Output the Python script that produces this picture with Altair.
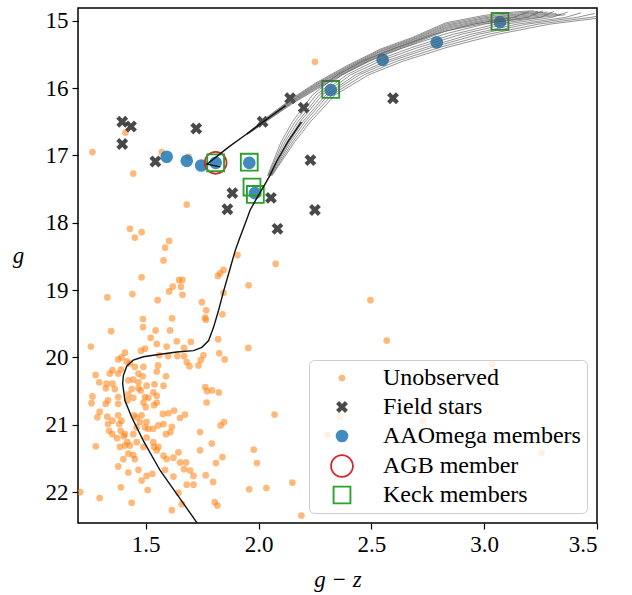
import altair as alt
import pandas as pd

# ---------------- data ----------------
unobs_x = [2.25, 1.264, 1.41, 1.571, 1.445, 1.69, 1.682, 1.43, 1.482, 1.452, 1.604, 1.586, 1.579, 1.907,
           1.482, 1.648, 1.663, 1.62, 1.656, 1.604, 1.663, 1.441, 1.33, 1.553,
           2.076, 1.845, 1.83, 1.82, 1.956, 1.845, 1.749, 1.768, 1.84,
           1.763, 1.767, 1.488, 1.488, 1.617, 1.347, 1.544, 1.608, 1.522, 1.821, 1.955, 1.257,
           1.549, 1.593, 1.638, 1.67, 1.70, 1.497,
           1.56, 1.60, 1.64, 1.67, 1.826, 1.85,
           1.756, 1.744, 1.734, 1.682, 1.694, 1.479,
           1.408, 1.393, 1.378, 1.416, 1.43,
           1.353, 1.341, 1.378, 1.39,
           1.452, 1.49, 1.468, 1.487, 1.278,
           1.555, 1.549, 1.59,
           1.294, 1.327, 1.353, 1.363, 1.323,
           1.423, 1.445, 1.468, 1.468, 1.438, 1.478, 1.504,
           1.539, 1.579, 1.534,
           1.264, 1.26, 1.323, 1.333,
           1.378, 1.378, 1.423, 1.445, 1.42,
           1.497, 1.49, 1.50, 1.512, 1.549, 1.549, 1.537,
           1.764, 1.772, 1.794, 1.824, 1.77,
           1.296, 1.33, 1.286, 1.353, 1.333, 1.338, 1.352, 1.279,
           1.378, 1.393, 1.383, 1.389, 1.408,
           1.448, 1.46, 1.482, 1.475, 1.46, 1.497, 1.504, 1.512, 1.534, 1.556, 1.579, 1.445,
           1.576, 1.601, 1.626, 1.652, 1.674,
           1.616, 1.61, 1.59,
           1.832, 1.847, 1.741, 1.793, 1.741, 2.071,
           1.373, 1.403, 1.418, 1.408, 1.43, 1.386,
           1.504, 1.534, 1.46, 1.49, 1.537, 1.556,
           1.549, 1.579, 1.593, 1.623, 1.645,
           1.423, 1.445, 1.452, 1.401, 1.378,
           1.468, 1.423, 1.482, 1.504, 1.53,
           1.586, 1.623, 1.652, 1.679, 1.67, 1.697, 1.712, 1.682, 1.712,
           1.645, 1.66, 1.616,
           1.766, 1.799, 1.811, 1.84,
           1.979, 1.993,
           1.39, 1.509, 1.296, 1.21, 1.438,
           1.806, 1.818,
           1.959, 2.035, 2.15, 2.19,
           2.496, 2.568, 3.036, 3.254, 2.728, 2.362, 2.305, 2.716, 2.657, 2.87]
unobs_g = [15.61, 16.95, 16.66, 16.95, 17.27, 17.02, 17.73, 18.09, 18.14, 18.22, 18.27, 18.37, 18.56, 18.48,
           18.81, 18.85, 18.85, 18.95, 18.95, 19.02, 19.07, 19.06, 19.11, 19.15,
           18.61, 18.70, 18.75, 18.79, 18.93, 19.04, 19.18, 19.30, 19.36,
           19.41, 19.44, 19.43, 19.55, 19.42, 19.61, 19.60, 19.60, 19.71, 19.73, 19.86, 19.84,
           19.80, 19.84, 19.76, 19.86, 19.77, 19.87,
           19.97, 19.98, 19.98, 19.98, 19.94, 20.03,
           19.97, 20.04, 20.12, 20.07, 20.13, 19.90,
           19.93, 20.00, 20.03, 20.06, 20.09,
           20.19, 20.24, 20.24, 20.18,
           20.14, 20.14, 20.24, 20.28, 20.26,
           20.12, 20.21, 20.28,
           20.37, 20.39, 20.39, 20.47, 20.46,
           20.34, 20.33, 20.37, 20.46, 20.47, 20.49, 20.42,
           20.40, 20.42, 20.52,
           20.58, 20.68, 20.69, 20.64,
           20.59, 20.69, 20.55, 20.60, 20.64,
           20.59, 20.67, 20.74, 20.60, 20.57, 20.67, 20.71,
           20.44, 20.50, 20.49, 20.52, 20.67,
           20.81, 20.88, 20.89, 20.94, 20.99, 21.09, 21.14, 21.32,
           20.86, 20.94, 20.99, 21.09, 21.14,
           20.86, 20.89, 20.86, 20.96, 21.04, 21.04, 20.96, 21.06, 21.06, 21.01, 20.99, 21.14,
           20.84, 20.83, 20.79, 20.90, 20.85,
           21.03, 21.11, 21.14,
           21.01, 20.96, 21.11, 21.28, 21.38, 20.85,
           21.20, 21.17, 21.26, 21.31, 21.31, 21.33,
           21.19, 21.26, 21.26, 21.33, 21.33, 21.33,
           21.38, 21.46, 21.51, 21.49, 21.41,
           21.43, 21.45, 21.51, 21.51, 21.62,
           21.67, 21.71, 21.83, 21.76, 21.73,
           21.67, 21.77, 21.56, 21.56, 21.66, 21.68, 21.76, 21.89, 21.89,
           22.01, 22.18, 22.27,
           21.75, 21.85, 21.57, 21.48,
           21.37, 21.57,
           21.93, 21.97, 22.09, 22.00, 22.16,
           22.15, 22.20,
           21.96, 21.94, 21.86, 22.35,
           19.15, 19.75, 20.10, 21.42, 20.94, 20.88, 21.15, 21.68, 20.75, 20.83]

field_x = [1.396, 1.435, 1.396, 1.724, 1.543, 1.884, 1.862, 2.055, 2.084, 2.018, 2.14, 2.20, 2.23, 2.25, 2.596]
field_g = [16.50, 16.57, 16.83, 16.60, 17.09, 17.56, 17.80, 17.63, 18.09, 16.50, 16.15, 16.29, 17.07, 17.81, 16.15]

aao_x = [1.593, 1.682, 1.746, 1.81, 1.959, 1.984, 2.32, 2.55, 2.79, 3.07]
aao_g = [17.02, 17.08, 17.15, 17.11, 17.11, 17.56, 16.03, 15.58, 15.32, 15.02]

agb_x = [1.81]
agb_g = [17.11]

keck_x = [1.81, 1.959, 1.971, 1.986, 2.32, 3.07]
keck_g = [17.11, 17.10, 17.47, 17.58, 16.02, 15.01]

# best-fitting (black) isochrone: main sequence -> lower RGB
iso_x = [1.745, 1.73, 1.638, 1.564, 1.49, 1.438, 1.408, 1.398, 1.401, 1.416, 1.445, 1.49, 1.549, 1.638,
         1.712, 1.749, 1.779, 1.801, 1.823, 1.845, 1.868, 1.897, 1.913, 1.941, 1.963, 1.988, 2.03,
         2.05, 2.08, 2.13, 2.19]
iso_g = [22.55, 22.47, 22.03, 21.68, 21.24, 20.89, 20.64, 20.39, 20.27, 20.13, 20.04, 19.99, 19.96, 19.92,
         19.90, 19.85, 19.75, 19.55, 19.30, 19.02, 18.75, 18.41, 18.26, 18.01, 17.81, 17.66, 17.42,
         17.30, 17.09, 16.80, 16.50]

# black isochrone: horizontal branch / lower AGB
iso_agb_x = [1.83, 1.772, 1.87, 1.94, 2.05, 2.12]
iso_agb_g = [17.17, 17.13, 16.87, 16.70, 16.43, 16.26]

# grey isochrones, RGB part: x at common g levels, plus a tip
rgb_levels = [17.30, 16.80, 16.50, 16.10, 15.80, 15.60, 15.40, 15.20, 15.05, 14.95]
rgb_lines_x = [
    [2.040, 2.100, 2.150, 2.240, 2.350, 2.460, 2.610, 2.780, 2.950, 3.130, 3.20],
    [2.043, 2.109, 2.162, 2.255, 2.371, 2.487, 2.643, 2.822, 3.001, 3.190, 3.26],
    [2.046, 2.118, 2.174, 2.270, 2.392, 2.514, 2.676, 2.864, 3.052, 3.250, 3.31],
    [2.049, 2.126, 2.184, 2.283, 2.410, 2.537, 2.704, 2.899, 3.095, 3.300, 3.37],
    [2.052, 2.135, 2.196, 2.298, 2.431, 2.564, 2.737, 2.941, 3.146, 3.360, 3.43],
    [2.054, 2.142, 2.206, 2.310, 2.448, 2.586, 2.764, 2.976, 3.188, 3.410, 3.49],
    [2.057, 2.151, 2.218, 2.325, 2.469, 2.613, 2.797, 3.018, 3.239, 3.470, 3.56],
    [2.060, 2.160, 2.230, 2.340, 2.490, 2.640, 2.830, 3.060, 3.290, 3.530, 3.62],
]
rgb_tips_g = [14.86, 14.85, 14.86, 14.87, 14.88, 14.89, 14.90, 14.91]

# grey isochrones, AGB part: g at common x levels, plus a tip
agb_levels = [1.95, 2.05, 2.15, 2.25, 2.39, 2.54, 2.68, 2.83, 3.00, 3.13]
agb_lines_g = [
    [16.670, 16.400, 16.150, 15.930, 15.670, 15.420, 15.250, 15.030, 14.920, 14.870],
    [16.673, 16.409, 16.162, 15.945, 15.685, 15.435, 15.265, 15.048, 14.938, 14.888],
    [16.676, 16.418, 16.174, 15.960, 15.700, 15.450, 15.280, 15.066, 14.956, 14.906],
    [16.678, 16.425, 16.184, 15.972, 15.712, 15.462, 15.292, 15.081, 14.971, 14.921],
    [16.682, 16.435, 16.196, 15.988, 15.728, 15.478, 15.308, 15.099, 14.989, 14.939],
    [16.684, 16.442, 16.206, 16.000, 15.740, 15.490, 15.320, 15.114, 15.004, 14.954],
    [16.687, 16.451, 16.218, 16.015, 15.755, 15.505, 15.335, 15.132, 15.022, 14.972],
    [16.690, 16.460, 16.230, 16.030, 15.770, 15.520, 15.350, 15.150, 15.040, 14.990],
]
agb_tips_x = [3.22, 3.24, 3.26, 3.28, 3.30, 3.32, 3.34, 3.36]
agb_tips_g = [14.85, 14.86, 14.87, 14.87, 14.88, 14.89, 14.90, 14.91]

kinds = ["Unobserved", "Field stars", "AAOmega members", "AGB member", "Keck members"]

# ---------------- build tables ----------------
rows = []
for xs_, gs_, k in [(unobs_x, unobs_g, kinds[0]), (field_x, field_g, kinds[1]),
                    (aao_x, aao_g, kinds[2]), (agb_x, agb_g, kinds[3]),
                    (keck_x, keck_g, kinds[4])]:
    for a, b in zip(xs_, gs_):
        rows.append({"x": a, "g": b, "kind": k})
pts = pd.DataFrame(rows)

grey_rows = []
for i, lx in enumerate(rgb_lines_x):
    gs_ = rgb_levels + [rgb_tips_g[i]]
    for j, (a, b) in enumerate(zip(lx, gs_)):
        grey_rows.append({"x": a, "g": b, "line": f"rgb{i}", "ord": j})
for i, lg in enumerate(agb_lines_g):
    xs_ = agb_levels + [agb_tips_x[i]]
    gs_ = lg + [agb_tips_g[i]]
    for j, (a, b) in enumerate(zip(xs_, gs_)):
        grey_rows.append({"x": a, "g": b, "line": f"agb{i}", "ord": j})
grey = pd.DataFrame(grey_rows)

black_rows = []
for j, (a, b) in enumerate(zip(iso_x, iso_g)):
    black_rows.append({"x": a, "g": b, "line": "main", "ord": j})
for j, (a, b) in enumerate(zip(iso_agb_x, iso_agb_g)):
    black_rows.append({"x": a, "g": b, "line": "agb", "ord": j})
black = pd.DataFrame(black_rows)

# ---------------- chart ----------------
FONT = "Liberation Serif"
X_PATH = "M-1,-0.5L-0.5,-1L0,-0.5L0.5,-1L1,-0.5L0.5,0L1,0.5L0.5,1L0,0.5L-0.5,1L-1,0.5L-0.5,0Z"
RING_PATH = ("M1,0A1,1 0 1,0 -1,0A1,1 0 1,0 1,0Z"
             "M0.85,0A0.85,0.85 0 1,1 -0.85,0A0.85,0.85 0 1,1 0.85,0Z")
SQUARE_OPEN_PATH = ("M-1,-1L1,-1L1,1L-1,1Z"
                    "M-0.8,-0.8L-0.8,0.8L0.8,0.8L0.8,-0.8Z")

xscale = alt.Scale(domain=[1.2, 3.5], nice=False, zero=False)
yscale = alt.Scale(domain=[14.81, 22.46], reverse=True, nice=False, zero=False)

xaxis = alt.Axis(values=[1.5, 2.0, 2.5, 3.0, 3.5], format=".1f", title="g − z",
                 titleFontStyle="italic", titleY=56, titleBaseline="middle")
yaxis = alt.Axis(values=[15, 16, 17, 18, 19, 20, 21, 22], format="d", title="g",
                 titleFontStyle="italic", titleAngle=0, titleX=-60, titleY=247,
                 titleAlign="center", titleBaseline="middle")

leg = alt.Legend(orient="bottom-right", offset=10, title=None,
                 labelFont=FONT, labelFontSize=24, labelColor="black", labelLimit=400,
                 strokeColor="#cccccc", fillColor="rgba(255,255,255,0.8)",
                 cornerRadius=5, padding=6, rowPadding=5, labelOffset=28, symbolOffset=14)

points = alt.Chart(pts).mark_point(clip=True, filled=True).encode(
    x=alt.X("x:Q", scale=xscale, axis=xaxis),
    y=alt.Y("g:Q", scale=yscale, axis=yaxis),
    shape=alt.Shape("kind:N", scale=alt.Scale(domain=kinds, range=["circle", X_PATH, "circle", RING_PATH, SQUARE_OPEN_PATH]), legend=leg),
    color=alt.Color("kind:N", scale=alt.Scale(domain=kinds, range=["#ff7f0e", "#3a3a3a", "#1f77b4", "#d62728", "#2ca02c"]), legend=leg),
    size=alt.Size("kind:N", scale=alt.Scale(type="ordinal", domain=kinds, range=[45, 140, 160, 560, 350]), legend=leg),
    opacity=alt.Opacity("kind:N", scale=alt.Scale(type="ordinal", domain=kinds, range=[0.55, 0.92, 0.85, 1.0, 1.0]), legend=leg),
)

grey_lines = alt.Chart(grey).mark_line(clip=True, color="#555555", strokeWidth=0.8, opacity=0.8).encode(
    x=alt.X("x:Q", scale=xscale),
    y=alt.Y("g:Q", scale=yscale),
    detail="line:N",
    order="ord:Q",
)

black_lines = alt.Chart(black).mark_line(clip=True, color="#111111", strokeWidth=1.4).encode(
    x=alt.X("x:Q", scale=xscale),
    y=alt.Y("g:Q", scale=yscale),
    detail="line:N",
    order="ord:Q",
)

chart = alt.layer(points, grey_lines, black_lines).properties(
    width=519, height=515,
    autosize=alt.AutoSizeParams(type="none"),
    padding={"left": 78, "top": 8, "right": 35, "bottom": 72},
    background="white",
).configure_view(
    stroke="black", strokeWidth=1.5
).configure_axis(
    grid=False, domain=False, ticks=True, tickSize=6, tickWidth=1.2, tickColor="black",
    labelFont=FONT, labelFontSize=23, labelColor="black", labelPadding=4,
    titleFont=FONT, titleFontSize=23, titleColor="black", titleFontWeight="normal",
)

chart.save("out.html", embed_options={"renderer": "svg", "actions": False})
